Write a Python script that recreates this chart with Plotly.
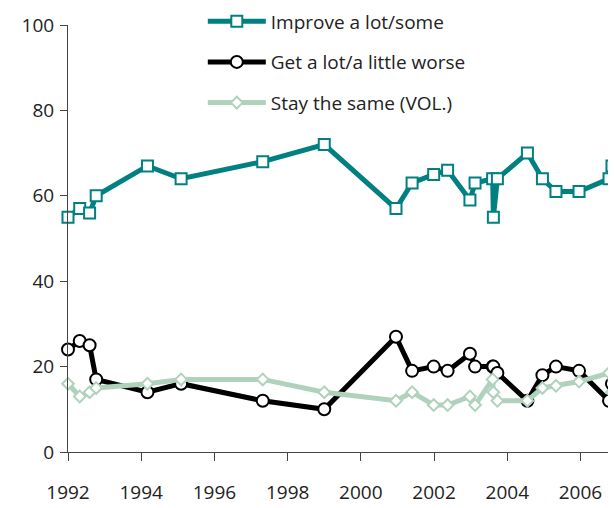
import plotly.graph_objects as go

# survey dates (decimal years), shared by all three series
dates = [1992.0, 1992.32, 1992.59, 1992.77, 1994.17, 1995.09, 1997.32, 1999.0,
         2000.96, 2001.4, 2001.99, 2002.37, 2002.98, 2003.12, 2003.6, 2003.62,
         2003.73, 2004.55, 2004.96, 2005.33, 2005.96, 2006.78, 2006.86]

improve = [55, 57, 56, 60, 67, 64, 68, 72, 57, 63, 65, 66, 59, 63, 64, 55,
           64, 70, 64, 61, 61, 64, 67]
worse = [24, 26, 25, 17, 14, 16, 12, 10, 27, 19, 20, 19, 23, 20, 20, 20,
         18.5, 12, 18, 20, 19, 12, 16]
same = [16, 13, 14, 15, 16, 17, 17, 14, 12, 14, 11, 11, 13, 11, 17, 14,
        12, 12, 15, 15.5, 16.5, 18.5, 14]

year_ticks = [1992, 1994, 1996, 1998, 2000, 2002, 2004, 2006]
pct_ticks = [0, 20, 40, 60, 80, 100]

FONT = "Open Sans"
TEAL = "#008080"
GREEN = "#b0d2bd"

fig = go.Figure()

fig.add_trace(go.Scatter(
    x=dates, y=improve, name="Improve a lot/some", mode="lines+markers",
    line=dict(color=TEAL, width=5),
    marker=dict(symbol="square", size=11, color="white", line=dict(color=TEAL, width=2)),
    cliponaxis=False, legendgroup="a"))

fig.add_trace(go.Scatter(
    x=dates, y=worse, name="Get a lot/a little worse", mode="lines+markers",
    line=dict(color="black", width=5),
    marker=dict(symbol="circle", size=12, color="white", line=dict(color="black", width=2)),
    cliponaxis=False, legendgroup="b"))

fig.add_trace(go.Scatter(
    x=dates, y=same, name="Stay the same (VOL.)", mode="lines+markers",
    line=dict(color=GREEN, width=5),
    marker=dict(symbol="diamond", size=9, color="white", line=dict(color=GREEN, width=2)),
    cliponaxis=False, legendgroup="c"))

# the page adds an 8px body margin, so the figure is 8px smaller each way
fig.update_layout(
    width=608, height=500,
    margin=dict(l=60, r=0, t=17, b=56, autoexpand=False),
    paper_bgcolor="white", plot_bgcolor="white",
    font=dict(family=FONT, size=19, color="#222"),
    legend=dict(x=0.246, y=1.053, xanchor="left", yanchor="top",
                tracegroupgap=13, itemwidth=58, bgcolor="rgba(0,0,0,0)",
                font=dict(family=FONT, size=19, color="#222")),
    xaxis=dict(range=[1992, 2006.97], tickvals=year_ticks, showgrid=False,
               showline=True, linecolor="#444", linewidth=1,
               ticks="outside", ticklen=8, tickcolor="#444",
               ticklabelstandoff=15, zeroline=False),
    yaxis=dict(range=[0, 100], tickvals=pct_ticks, showgrid=False,
               showline=True, linecolor="#444", linewidth=1,
               ticks="outside", ticklen=7, tickcolor="#444",
               ticklabelstandoff=2, zeroline=False),
)

fig.write_html("out.html")
